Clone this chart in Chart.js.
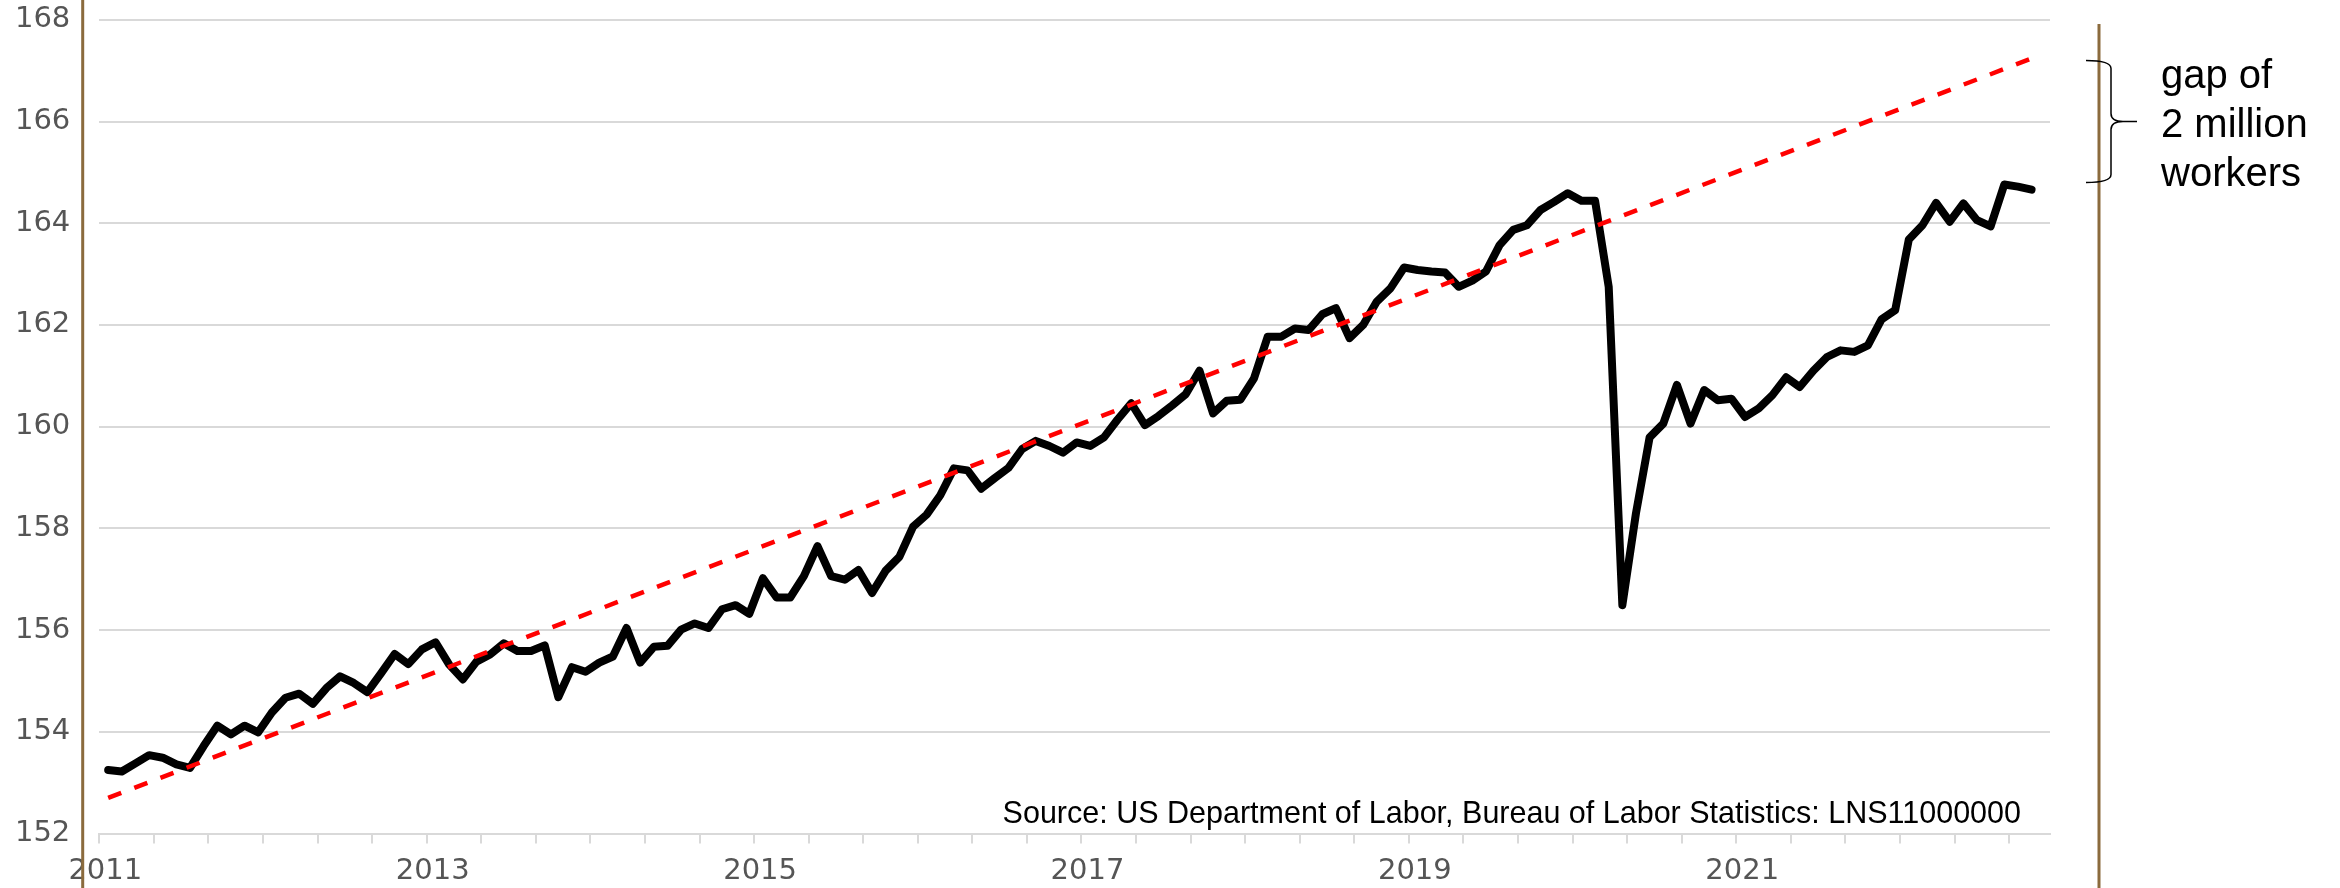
<!DOCTYPE html>
<html>
<head>
<meta charset="utf-8">
<title>US civilian labor force vs. trend</title>
<script src="https://cdn.jsdelivr.net/npm/chart.js@4.4.0/dist/chart.umd.min.js"></script>
<style>
  html, body { margin: 0; padding: 0; background: #fff; }
  #wrap { width: 2340px; height: 888px; position: relative; }
</style>
</head>
<body>
<div id="wrap"><canvas id="chart"></canvas></div>
<script>
// civilian labor force, millions, one value per month, Jan 2011 .. Oct 2022
var laborForce = [
  153.25, 153.22, 153.38, 153.54, 153.49, 153.36, 153.29, 153.72, 154.12, 153.95, 154.12, 153.99,
  154.38, 154.67, 154.75, 154.55, 154.86, 155.09, 154.96, 154.78, 155.15, 155.53, 155.33, 155.62,
  155.76, 155.32, 155.03, 155.38, 155.52, 155.74, 155.59, 155.59, 155.70, 154.68, 155.27, 155.18,
  155.36, 155.48, 156.04, 155.36, 155.67, 155.69, 156.01, 156.13, 156.04, 156.41, 156.49, 156.32,
  157.02, 156.64, 156.64, 157.06, 157.65, 157.06, 156.99, 157.18, 156.73, 157.17, 157.44, 158.03,
  158.27, 158.65, 159.18, 159.14, 158.78, 158.99, 159.19, 159.56, 159.72, 159.62, 159.49, 159.69,
  159.62, 159.79, 160.14, 160.46, 160.03, 160.21, 160.42, 160.64, 161.10, 160.26, 160.51, 160.53,
  160.95, 161.77, 161.77, 161.93, 161.90, 162.21, 162.33, 161.74, 162.00, 162.46, 162.72, 163.13,
  163.08, 163.05, 163.03, 162.75, 162.87, 163.05, 163.57, 163.87, 163.96, 164.26, 164.42, 164.59,
  164.44, 164.44, 162.75, 156.49, 158.30, 159.79, 160.06, 160.82, 160.06, 160.72, 160.52, 160.55,
  160.19, 160.36, 160.62, 160.97, 160.78, 161.10, 161.37, 161.50, 161.47, 161.60, 162.11, 162.29,
  163.68, 163.96, 164.40, 164.03, 164.39, 164.06, 163.94, 164.76, 164.72, 164.66
];
// dashed trend line: value at the first and at the last month
var trendEnds = [152.70, 167.24];
var yearLabels = ['2011', '2013', '2015', '2017', '2019', '2021'];
var yMin = 152, yMax = 168, yStep = 2;
var gapRange = [167.2, 164.8];
var gapNote = ['gap of', '2 million', 'workers'];
var sourceNote = 'Source: US Department of Labor, Bureau of Labor Statistics: LNS11000000';

// ticks every 4 months, a bit before the monthly points
var tickShift = -0.65;

var seriesPoints = laborForce.map(function (v, i) { return { x: i, y: v }; });
var trendPoints = [
  { x: 0, y: trendEnds[0] },
  { x: laborForce.length - 1, y: trendEnds[1] }
];

var extras = {
  id: 'extras',
  afterDraw: function (chart) {
    var ctx = chart.ctx, a = chart.chartArea, ys = chart.scales.y;
    ctx.save();

    // brown rules at both sides
    ctx.strokeStyle = '#8b6b3d';
    ctx.lineWidth = 3;
    ctx.beginPath();
    ctx.moveTo(a.left - 16.6, 0);
    ctx.lineTo(a.left - 16.6, chart.height);
    ctx.moveTo(a.right + 49, 24);
    ctx.lineTo(a.right + 49, chart.height);
    ctx.stroke();

    // brace for the gap
    var y0 = ys.getPixelForValue(gapRange[0]);
    var y1 = ys.getPixelForValue(gapRange[1]);
    var ym = (y0 + y1) / 2;
    var xa = a.right + 36, xv = a.right + 61, xt = a.right + 87, r = 8;
    ctx.strokeStyle = '#000';
    ctx.lineWidth = 1.5;
    ctx.beginPath();
    ctx.moveTo(xa, y0);
    ctx.quadraticCurveTo(xv, y0, xv, y0 + r);
    ctx.lineTo(xv, ym - r);
    ctx.quadraticCurveTo(xv, ym, xv + r * 1.5, ym);
    ctx.lineTo(xt, ym);
    ctx.moveTo(xv + r * 1.5, ym);
    ctx.quadraticCurveTo(xv, ym, xv, ym + r);
    ctx.lineTo(xv, y1 - r);
    ctx.quadraticCurveTo(xv, y1, xa, y1);
    ctx.stroke();

    ctx.fillStyle = '#000';
    ctx.font = '40px "Liberation Sans", Arial, sans-serif';
    ctx.textAlign = 'left';
    ctx.textBaseline = 'alphabetic';
    gapNote.forEach(function (t, i) {
      ctx.fillText(t, a.right + 111, 88 + i * 49);
    });

    ctx.font = '30.5px "Liberation Sans", Arial, sans-serif';
    ctx.textAlign = 'right';
    ctx.fillText(sourceNote, a.right - 29, a.bottom - 10.5);
    ctx.restore();
  }
};

new Chart(document.getElementById('chart'), {
  type: 'line',
  data: {
    datasets: [
      {
        data: trendPoints,
        borderColor: '#ff0000',
        borderWidth: 4.5,
        borderDash: [14, 14],
        pointRadius: 0,
        fill: false
      },
      {
        data: seriesPoints,
        borderColor: '#000',
        borderWidth: 8,
        borderJoinStyle: 'round',
        borderCapStyle: 'round',
        pointRadius: 0,
        tension: 0,
        fill: false
      }
    ]
  },
  options: {
    responsive: true,
    maintainAspectRatio: false,
    animation: false,
    devicePixelRatio: 1,
    layout: { padding: { top: 19.8, right: 290, bottom: 0, left: 0 } },
    plugins: { legend: { display: false }, tooltip: { enabled: false } },
    scales: {
      x: {
        type: 'linear',
        min: tickShift,
        max: tickShift + 143,
        afterBuildTicks: function (scale) {
          var t = [];
          for (var k = 0; k <= 35; k++) t.push({ value: tickShift + 4 * k });
          scale.ticks = t;
        },
        afterFit: function (scale) {
          scale.height = 54.5;
          scale.paddingLeft = 0;
          scale.paddingRight = 0;
        },
        ticks: {
          autoSkip: false,
          maxRotation: 0,
          padding: 11,
          labelOffset: 6,
          color: '#555',
          font: { family: 'DejaVu Sans', size: 29 },
          callback: function (v, i) { return i % 6 === 0 ? yearLabels[i / 6] : ''; }
        },
        grid: {
          drawOnChartArea: false,
          drawTicks: true,
          tickLength: 10,
          color: '#d9d9d9',
          lineWidth: 2
        },
        border: { display: true, color: '#d9d9d9', width: 2 }
      },
      y: {
        min: yMin,
        max: yMax,
        afterFit: function (scale) {
          scale.width = 99.3;
          scale.paddingTop = 0;
          scale.paddingBottom = 0;
        },
        ticks: {
          stepSize: yStep,
          padding: 29,
          color: '#555',
          font: { family: 'DejaVu Sans', size: 29 }
        },
        grid: { color: '#d9d9d9', lineWidth: 2, drawTicks: false },
        border: { display: false }
      }
    }
  },
  plugins: [extras]
});
</script>
</body>
</html>
